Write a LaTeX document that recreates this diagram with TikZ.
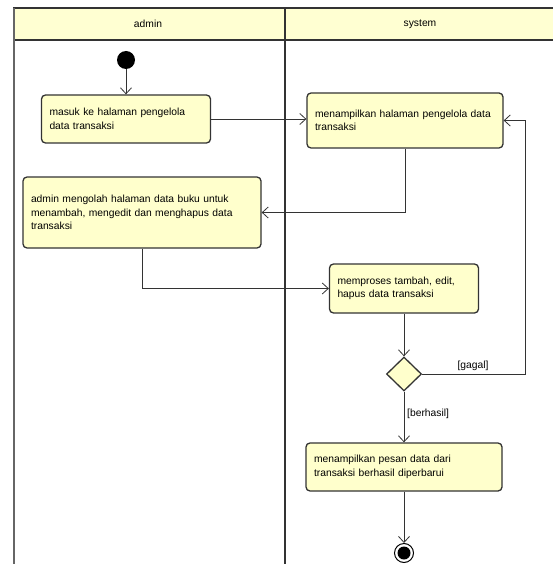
\documentclass[tikz,border=0pt]{standalone}
\usepackage{fontspec}
\setmainfont{Liberation Sans}
\usetikzlibrary{arrows.meta,shapes.geometric}
\definecolor{actfill}{HTML}{FFFFCC}
\definecolor{lanefill}{HTML}{FFFFD2}
\definecolor{edge}{HTML}{333333}
\begin{document}
\begin{tikzpicture}[x=1pt,y=-1pt,
  font=\fontsize{10.3}{13.5}\selectfont,
  action/.style={draw=edge,line width=1.3pt,fill=actfill,rounded corners=4pt,
    align=left,inner xsep=8pt,inner ysep=0pt,anchor=center},
  flow/.style={draw=edge,line width=0.8pt,-{Straight Barb[length=6pt,width=11pt]}},
  guard/.style={font=\fontsize{10.3}{12}\selectfont,inner sep=1pt}]
\useasboundingbox (0,0) rectangle (553,564);
\fill[white] (0,0) rectangle (553,564);
% swimlane headers
\fill[lanefill] (14,8) rectangle (553,40);
\draw[edge,line width=1.8pt] (13,8) -- (553,8);
\draw[edge,line width=1.1pt] (14,40) -- (553,40);
\draw[gray!80!black,line width=2.4pt] (14,8) -- (14,564);
\draw[edge,line width=1.4pt] (285,8) -- (285,564);
\node (laneA) at (148,24) {admin};
\node (laneS) at (420,24) {system};
% activity nodes
\node[circle,fill=black,minimum size=18pt,inner sep=0pt] (start) at (126,60) {};
\node[action,text width=153pt,minimum height=48pt] (a1) at (126,119)
  {masuk ke halaman pengelola\\data transaksi};
\node[action,text width=180pt,minimum height=55pt] (s1) at (405,120.5)
  {menampilkan halaman pengelola data\\transaksi};
\node[action,text width=222pt,minimum height=71pt] (a2) at (142,212.5)
  {admin mengolah halaman data buku untuk\\menambah, mengedit dan menghapus data\\transaksi};
\node[action,text width=133pt,minimum height=49pt] (s2) at (404,288.5)
  {memproses tambah, edit,\\hapus data transaksi};
\node[diamond,draw=edge,line width=1.3pt,fill=actfill,minimum width=35pt,
  minimum height=34pt,inner sep=0pt] (dec) at (404,374) {};
\node[action,text width=180pt,minimum height=48pt] (s3) at (404,467)
  {menampilkan pesan data dari\\transaksi berhasil diperbarui};
\node[circle,draw=black,line width=1pt,fill=white,minimum size=19pt,inner sep=0pt] (end) at (404,553) {};
\fill[black] (end.center) circle (6.5pt);
% control flows
\draw[flow] (start) -- (a1);
\draw[flow] (a1.east) -- (s1.west |- a1.east);
\draw[flow] (s1.south) -- (s1.south |- a2.east) -- (a2.east);
\draw[flow] (a2.south) -- (a2.south |- s2.west) -- (s2.west);
\draw[flow] (s2.south) -- (dec.north);
\coordinate (loop) at (525,374);
\draw[flow] (dec.east) -- (loop) -- (loop |- s1.east) -- (s1.east);
\draw[flow] (dec.south) -- (s3.north);
\draw[flow] (s3.south) -- (end.north);
\node[guard,anchor=south] (gg) at (473,372) {[gagal]};
\node[guard,anchor=west] (gb) at (406,414) {[berhasil]};
\end{tikzpicture}
\end{document}
